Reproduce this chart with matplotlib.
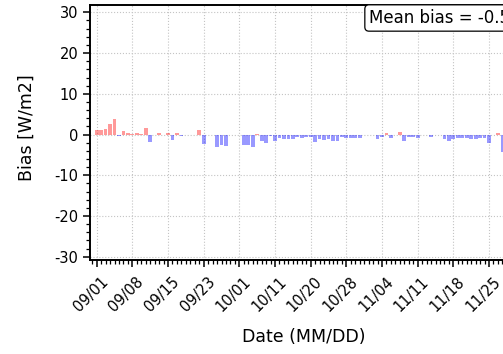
import matplotlib
matplotlib.use("Agg")
import matplotlib.pyplot as plt
import matplotlib.transforms as mtransforms
import numpy as np
from matplotlib.ticker import MultipleLocator

plt.rcParams["axes.unicode_minus"] = False

# bias per day (W/m2), one bar per valid day
bias = [1.1, 1.2, 1.4, 2.6, 3.8, -0.3, 0.8, 0.3, 0.2, 0.3,
        0.2, 1.5, -1.9, -0.2, 0.4, -0.2, 0.4, -1.3, 0.3, -0.4,
        0.0, 0.0, 0.0, 1.2, -2.3, -0.2, 0.0, -3.0, -2.5, -2.9,
        0.0, -0.1, 0.0, -2.5, -2.6, -3.1, 0.1, -1.5, -2.0, -0.3,
        -1.6, -0.9, -1.1, -1.2, -1.1, -0.7, -0.8, -0.7, -0.5, -1.8,
        -1.0, -1.4, -1.2, -1.5, -1.5, -0.5, -0.8, -0.9, -0.8, -0.9,
        -0.1, 0.0, 0.0, -1.0, -0.6, 0.3, -0.8, 0.0, 0.5, -1.5,
        -0.6, -0.5, -0.9, 0.0, 0.0, -0.5, 0.0, 0.0, -1.1, -1.6,
        -1.0, -0.9, -0.9, -0.9, -1.2, -1.0, -0.9, -0.8, -2.0, 0.0,
        0.3, -4.3, -0.5, -0.8]
tick_labels = ["09/01", "09/08", "09/15", "09/23", "10/01", "10/11",
               "10/20", "10/28", "11/04", "11/11", "11/18", "11/25"]
mean_bias_text = "Mean bias = -0.56 W/m2"

fig = plt.figure(figsize=(5.03, 3.54), dpi=100)
ax = fig.add_axes([90/503, 94/354, 428/503, 255/354])

x = np.arange(len(bias))
vals = np.array(bias)
colors = ["red" if v >= 0 else "blue" for v in vals]
ax.bar(x, vals, width=0.85, color=colors, alpha=0.4, zorder=2)

ax.set_xlim(-1.5, 94.5)
ax.set_ylim(-30.8, 31.8)
ax.set_xticks(np.arange(0, 8 * len(tick_labels), 8))
ax.set_xticklabels(tick_labels, rotation=45, ha="center", fontsize=10.5)
ax.xaxis.set_minor_locator(MultipleLocator(1))
ax.yaxis.set_major_locator(MultipleLocator(10))
ax.yaxis.set_minor_locator(MultipleLocator(2))
ax.tick_params(axis="y", labelsize=10.5)
ax.tick_params(axis="x", pad=5)
ax.tick_params(which="major", length=5, width=1.1)
ax.tick_params(which="minor", length=2.6, width=0.9)
for s in ax.spines.values():
    s.set_linewidth(1.4)
ax.grid(True, which="major", linestyle=":", color="#c4c4c4", linewidth=0.8, zorder=0)

ax.set_xlabel("Date (MM/DD)", fontsize=12.5)
ax.set_ylabel("Bias [W/m2]", fontsize=12.5)
ax.yaxis.set_label_coords(-0.126, 0.52)
ax.xaxis.set_label_coords(0.5, -0.265)

fig.text(369/503, 1 - 9/354, mean_bias_text, ha="left", va="top", fontsize=12,
         bbox=dict(boxstyle="round,pad=0.25", facecolor="white", edgecolor="black", linewidth=0.9))

# shift rotated date labels a little to the left
fig.canvas.draw()
shift = mtransforms.ScaledTranslation(-6/100, 0, fig.dpi_scale_trans)
for tick in ax.xaxis.get_major_ticks():
    tick.label1.set_transform(tick.label1.get_transform() + shift)

fig.savefig("out.png", dpi=100)
